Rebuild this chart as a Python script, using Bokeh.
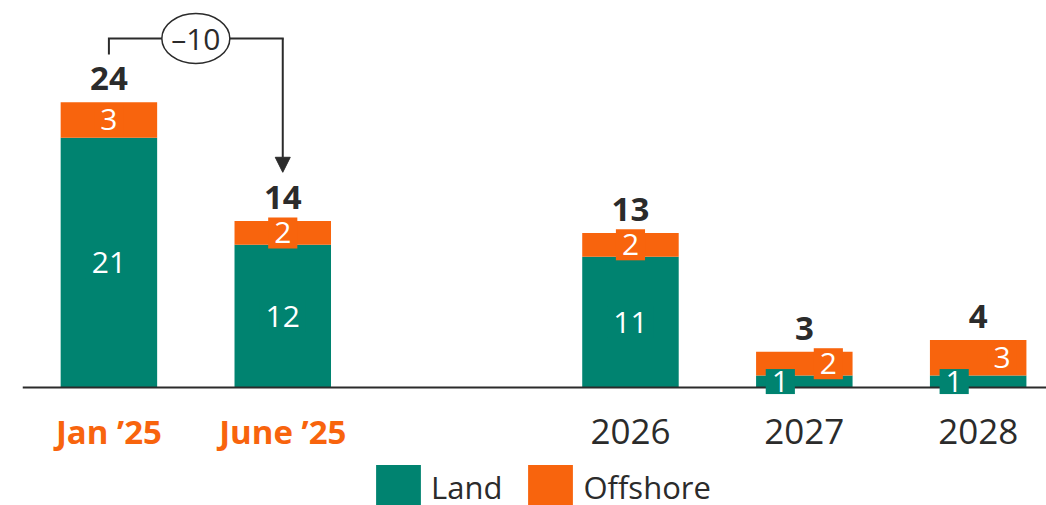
from bokeh.plotting import figure
from bokeh.models import (Range1d, ColumnDataSource, LabelSet, Label, Legend, LegendItem,
                          Arrow, NormalHead, Span)
from bokeh.core.properties import value
from bokeh.embed import file_html
from bokeh.resources import INLINE

# ---- data ----
categories = ["Jan ’25", "June ’25", "2026", "2027", "2028"]
land = [21, 12, 11, 1, 1]
offshore = [3, 2, 2, 2, 3]
totals = [24, 14, 13, 3, 4]
highlighted = [True, True, False, False, False]
change_label = "–10"
series_names = ["Land", "Offshore"]

GREEN = "#008370"
ORANGE = "#F8640D"
DARK = "#2B2B2B"
FONT = "Open Sans"

n = len(categories)
# one empty slot between the status bars and the outlook years
xpos = [i + (1 if i >= 2 else 0) for i in range(n)]

p = figure(width=1046, height=505, output_backend="svg", toolbar_location=None,
           x_range=Range1d(-0.497, 5.393), y_range=Range1d(-9.924, 32.548),
           min_border_left=22, min_border_right=0, min_border_top=0,
           min_border_bottom=0, x_axis_location=None, y_axis_location=None,
           outline_line_color=None,
           background_fill_color="white", border_fill_color="white")
p.grid.visible = False

src = ColumnDataSource(dict(
    x=xpos, land=land, offshore=offshore, total=totals,
    total_text=[str(t) for t in totals],
    cat=categories,
    tick_color=[ORANGE if h else DARK for h in highlighted],
    tick_style=["bold" if h else "normal" for h in highlighted],
    tick_size=["33px" if h else "35px" for h in highlighted],
))

bars = p.vbar_stack(["land", "offshore"], x="x", width=0.555, source=src,
                    fill_color=[GREEN, ORANGE], line_color=None)

# baseline
p.add_layout(Span(location=0, dimension="width", line_color=DARK, line_width=2))

# category labels
p.add_layout(LabelSet(x="x", y=0, y_offset=-56, text="cat", source=src,
                      text_align="center", text_baseline="alphabetic",
                      text_font=value(FONT), text_font_size="tick_size",
                      text_color="tick_color", text_font_style="tick_style"))

# totals
p.add_layout(LabelSet(x="x", y="total", y_offset=12, text="total_text", source=src,
                      text_align="center", text_baseline="alphabetic",
                      text_font=value(FONT), text_font_size="33px",
                      text_font_style="bold", text_color=DARK))


def seg_label(xv, yv, dx, v, bg):
    hpad = 2 if v == 1 else 5
    return Label(x=xv, y=yv, x_offset=dx, text=str(v),
                 text_align="center", text_baseline="middle",
                 text_font=FONT, text_font_size="30px",
                 text_color="white", background_fill_color=bg, padding=(6, hpad))


# segment labels
for i in range(n):
    split = land[i] < 2
    dx = 24 if split else 0
    p.add_layout(seg_label(xpos[i], land[i] / 2, -dx, land[i], GREEN))
    p.add_layout(seg_label(xpos[i], land[i] + offshore[i] / 2, dx, offshore[i], ORANGE))

# change bracket Jan -> June
top_y = totals[0] + 5.35
left_end = totals[0] + 4.1
tip_y = totals[1] + 4.1
mid_x = (xpos[0] + xpos[1]) / 2
p.line(x=[xpos[0], xpos[0], xpos[1]], y=[left_end, top_y, top_y],
       line_color=DARK, line_width=2, line_join="miter", line_cap="square")
p.add_layout(Arrow(end=NormalHead(size=15, fill_color=DARK, line_color=DARK, line_width=1),
                   x_start=xpos[1], y_start=top_y, x_end=xpos[1], y_end=tip_y,
                   line_color=DARK, line_width=2))
p.ellipse(x=mid_x, y=top_y, width=68, height=50, width_units="screen",
          height_units="screen", fill_color="white", line_color=DARK, line_width=1.5)
p.add_layout(Label(x=mid_x, y=top_y, text=change_label, text_align="center",
                   text_baseline="middle", text_font=FONT,
                   text_font_size="30px", text_color=DARK))

legend = Legend(items=[LegendItem(label=series_names[0], renderers=[bars[0]]),
                       LegendItem(label=series_names[1], renderers=[bars[1]])],
                location=(348, -10), orientation="horizontal",
                glyph_width=56, glyph_height=56, label_standoff=5, spacing=20,
                padding=0, margin=0, border_line_color=None, background_fill_alpha=0,
                label_text_font=FONT, label_text_font_size="31px",
                label_text_color=DARK)
p.add_layout(legend)

open("out.html", "w").write(file_html(p, INLINE))
